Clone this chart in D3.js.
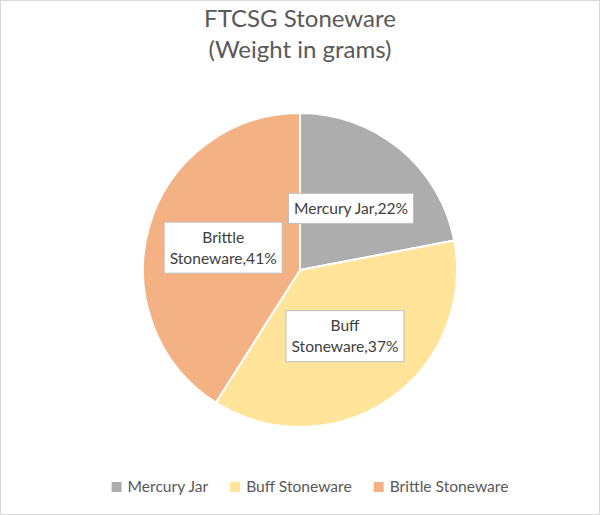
<!DOCTYPE html>
<html><head><meta charset="utf-8">
<script src="https://cdn.jsdelivr.net/npm/d3@7"></script>
<style>html,body{margin:0;padding:0;background:#fff;}svg{display:block;}</style>
</head><body>
<svg id="c" width="600" height="515"></svg>
<script>
const categories = ["Mercury Jar", "Buff Stoneware", "Brittle Stoneware"];
const values = [22, 37, 41];
const colors = ["#ADADAD", "#FFE49A", "#F4B183"];
const wrapLabel = [false, true, true];
const titleLines = ["FTCSG Stoneware", "(Weight in grams)"];

const W = 600, H = 515;
const FONT = "Lato, 'Open Sans', sans-serif";
const svg = d3.select("#c");
svg.append("rect").attr("x",0.5).attr("y",0.5).attr("width",W-1).attr("height",H-1)
  .attr("fill","#fff").attr("stroke","#D9D9D9");

// title
svg.append("g").selectAll("text").data(titleLines).join("text")
  .attr("x", W/2).attr("y",(d,i)=>27+i*31)
  .attr("text-anchor","middle").attr("font-family",FONT).attr("font-size",24)
  .attr("fill","#595959").text(d=>d);

const cx = 300, cy = 270, r = 157;
const total = d3.sum(values);
const pie = d3.pie().sort(null).value(d=>d.v);
const data = categories.map((c,i)=>({name:c, v:values[i], color:colors[i], wrap:wrapLabel[i]}));
const arcs = pie(data);
const arc = d3.arc().innerRadius(0).outerRadius(r);

const g = svg.append("g").attr("transform",`translate(${cx},${cy})`);
g.selectAll("path").data(arcs).join("path")
  .attr("d",arc).attr("fill",d=>d.data.color)
  .attr("stroke","#fff").attr("stroke-width",2).attr("stroke-linejoin","round");

const fmt = d3.format(".0%");
const lg = g.selectAll("g.lbl").data(arcs).join("g").attr("class","lbl")
  .attr("transform",d=>{const a=(d.startAngle+d.endAngle)/2; const rr=r/2+1.5;
    return `translate(${Math.sin(a)*rr},${-Math.cos(a)*rr})`;});
lg.each(function(d){
  const sel = d3.select(this);
  const pct = fmt(d.data.v/total);
  let lines;
  if (d.data.wrap) { const parts = d.data.name.split(" "); lines = [parts[0], parts.slice(1).join(" ")+","+pct]; }
  else lines = [d.data.name+","+pct];
  const lh = 21;
  const rect = sel.append("rect");
  const t = sel.append("text").attr("text-anchor","middle").attr("font-family",FONT)
    .attr("font-size",15.6).attr("fill","#404040");
  lines.forEach((ln,i)=>{
    t.append("tspan").attr("x",0).attr("y",(i-(lines.length-1)/2)*lh+5.5).text(ln);
  });
  const bb = t.node().getBBox();
  const w = bb.width + 11, h = lines.length*lh + 9;
  rect.attr("x",-w/2).attr("y",-h/2).attr("width",w).attr("height",h)
    .attr("fill","#fff").attr("stroke","#BFBFBF").attr("stroke-width",1);
});

// legend
const leg = svg.append("g");
const items = leg.selectAll("g").data(data).join("g");
items.append("rect").attr("width",10).attr("height",10).attr("y",-10).attr("fill",d=>d.color);
items.append("text").attr("x",16).attr("y",0).attr("font-family",FONT).attr("font-size",15.6)
  .attr("fill","#595959").text(d=>d.name);
let x = 0;
items.each(function(){
  const n = d3.select(this);
  n.attr("transform",`translate(${x},0)`);
  const tw = n.select("text").node().getComputedTextLength();
  x += 16 + tw + 22;
});
const legW = x - 22;
leg.attr("transform",`translate(${310 - legW/2},${492})`);
</script>
</body></html>
